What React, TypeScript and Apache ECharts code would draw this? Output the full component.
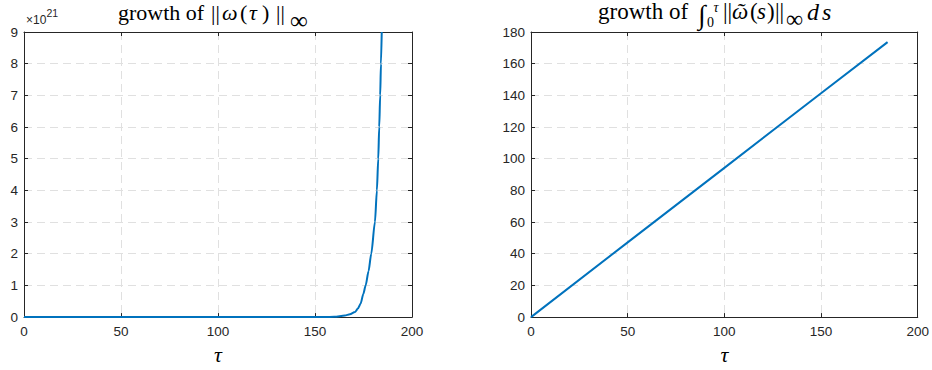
import { useEffect, useRef } from "react";
import * as echarts from "echarts";

// growth of the sup-norm of the vorticity, in units of 1e21
const omegaTau = [0, 150, 155, 160, 165.4, 168, 170.6, 172, 173.5, 174.9, 176.1, 177.6, 179.0, 180.9, 181.9, 182.6, 183.1, 183.6, 184.0, 184.4];
const omegaSupE21 = [0, 0, 0.002, 0.01, 0.05, 0.09, 0.16, 0.26, 0.42, 0.73, 1.0, 1.45, 2.0, 3.0, 4.0, 5.0, 6.0, 7.0, 8.0, 9.0];

// time integral of the sup-norm
const integralTau = [0, 50, 100, 150, 184.4];
const integralVal = [0, 47.2, 94.2, 141.3, 173.6];

const tauTicks = [0, 50, 100, 150, 200];
const omegaTicks = [0, 1, 2, 3, 4, 5, 6, 7, 8, 9];
const integralTicks = [0, 20, 40, 60, 80, 100, 120, 140, 160, 180];

const AXIS = "#262626";
const GRID = "#e0e0e0";
const BLUE = "#0072BD";
const SANS = "'Liberation Sans', Arial, Helvetica, sans-serif";
const SERIF = "'Liberation Serif', 'Times New Roman', 'DejaVu Serif', serif";

const pairs = (xs: number[], ys: number[]) => xs.map((x, i) => [x, ys[i]]);

function valueAxis(
  gridIndex: number,
  position: "bottom" | "top" | "left" | "right",
  ticks: number[],
  main: boolean,
  name?: string
) {
  const min = ticks[0];
  const max = ticks[ticks.length - 1];
  const interval = ticks[1] - ticks[0];
  return {
    type: "value",
    gridIndex,
    position,
    min,
    max,
    interval,
    name: name ?? "",
    nameLocation: "middle",
    nameGap: 21,
    nameTextStyle: { fontFamily: SERIF, fontStyle: "italic", fontSize: 22, color: "#000" },
    axisLine: { show: true, onZero: false, lineStyle: { color: AXIS, width: 1 } },
    axisTick: { show: true, inside: true, length: 4, lineStyle: { color: AXIS, width: 1 } },
    axisLabel: {
      show: main,
      color: AXIS,
      fontFamily: SANS,
      fontSize: 13.5,
      margin: position === "bottom" ? 7 : 6,
    },
    splitLine: {
      show: main,
      showMinLine: false,
      showMaxLine: false,
      lineStyle: { color: GRID, width: 1, type: [8, 5] },
    },
  };
}

type Piece = { t: string; x: number; y: number; size: number; italic?: boolean; align?: string; font?: string };

// title pieces: x is the left edge, y the middle of the text box
const titleLeft: Piece[] = [
  { t: "growth of", x: 118, y: 12.5, size: 22 },
  { t: "||", x: 211, y: 12.5, size: 22 },
  { t: "ω", x: 222, y: 12.5, size: 22, italic: true },
  { t: "(", x: 240, y: 12.5, size: 22 },
  { t: "τ", x: 249, y: 12.5, size: 22, italic: true },
  { t: ")", x: 262, y: 12.5, size: 22 },
  { t: "||", x: 276, y: 12.5, size: 22 },
  { t: "∞", x: 290, y: 20.5, size: 25 },
];

const titleRight: Piece[] = [
  { t: "growth of", x: 598, y: 11.5, size: 23 },
  { t: "∫", x: 698, y: 15, size: 27, italic: true },
  { t: "0", x: 707, y: 22.5, size: 14 },
  { t: "τ", x: 713.5, y: 7.5, size: 14, italic: true },
  { t: "||", x: 723, y: 11.5, size: 23 },
  { t: "ῶ", x: 732, y: 11.5, size: 23, italic: true },
  { t: "(", x: 750, y: 11.5, size: 23 },
  { t: "s", x: 757, y: 11.5, size: 23, italic: true },
  { t: ")", x: 767, y: 11.5, size: 23 },
  { t: "||", x: 775, y: 11.5, size: 23 },
  { t: "∞", x: 786, y: 18.5, size: 24 },
  { t: "d", x: 807, y: 11.5, size: 24, italic: true },
  { t: "s", x: 822, y: 11.5, size: 24, italic: true },
];

const exponentLabel: Piece[] = [
  { t: "×10", x: 26, y: 20, size: 12, font: SANS },
  { t: "21", x: 46.5, y: 13, size: 10.5, font: SANS },
];

const toText = (p: Piece) => ({
  type: "text",
  x: p.x,
  y: p.y,
  silent: true,
  style: {
    text: p.t,
    fill: p.font ? AXIS : "#000",
    fontFamily: p.font ?? SERIF,
    fontSize: p.size,
    fontStyle: p.italic ? "italic" : "normal",
    textAlign: p.align ?? "left",
    textVerticalAlign: "middle",
  },
});

export default function App() {
  const ref = useRef<HTMLDivElement>(null);

  useEffect(() => {
    if (!ref.current) return;
    const chart = echarts.init(ref.current, undefined, { renderer: "svg" });
    chart.setOption({
      animation: false,
      backgroundColor: "#fff",
      grid: [
        { left: 24, top: 32, width: 388, height: 288 },
        { left: 531, top: 32, width: 388, height: 288 },
      ],
      xAxis: [
        valueAxis(0, "bottom", tauTicks, true, "τ"),
        valueAxis(0, "top", tauTicks, false),
        valueAxis(1, "bottom", tauTicks, true, "τ"),
        valueAxis(1, "top", tauTicks, false),
      ],
      yAxis: [
        valueAxis(0, "left", omegaTicks, true),
        valueAxis(0, "right", omegaTicks, false),
        valueAxis(1, "left", integralTicks, true),
        valueAxis(1, "right", integralTicks, false),
      ],
      series: [
        {
          type: "line",
          name: "sup norm",
          xAxisIndex: 0,
          yAxisIndex: 0,
          data: pairs(omegaTau, omegaSupE21),
          showSymbol: false,
          smooth: 0.25,
          smoothMonotone: "x",
          lineStyle: { color: BLUE, width: 2 },
          z: 5,
        },
        {
          type: "line",
          name: "time integral",
          xAxisIndex: 2,
          yAxisIndex: 2,
          data: pairs(integralTau, integralVal),
          showSymbol: false,
          lineStyle: { color: BLUE, width: 2 },
          z: 5,
        },
      ],
      graphic: [...titleLeft, ...titleRight, ...exponentLabel].map(toText),
    });
    return () => chart.dispose();
  }, []);

  return (
    <div
      ref={ref}
      style={{ position: "fixed", left: 0, top: 0, width: 932, height: 370, background: "#fff" }}
    />
  );
}
